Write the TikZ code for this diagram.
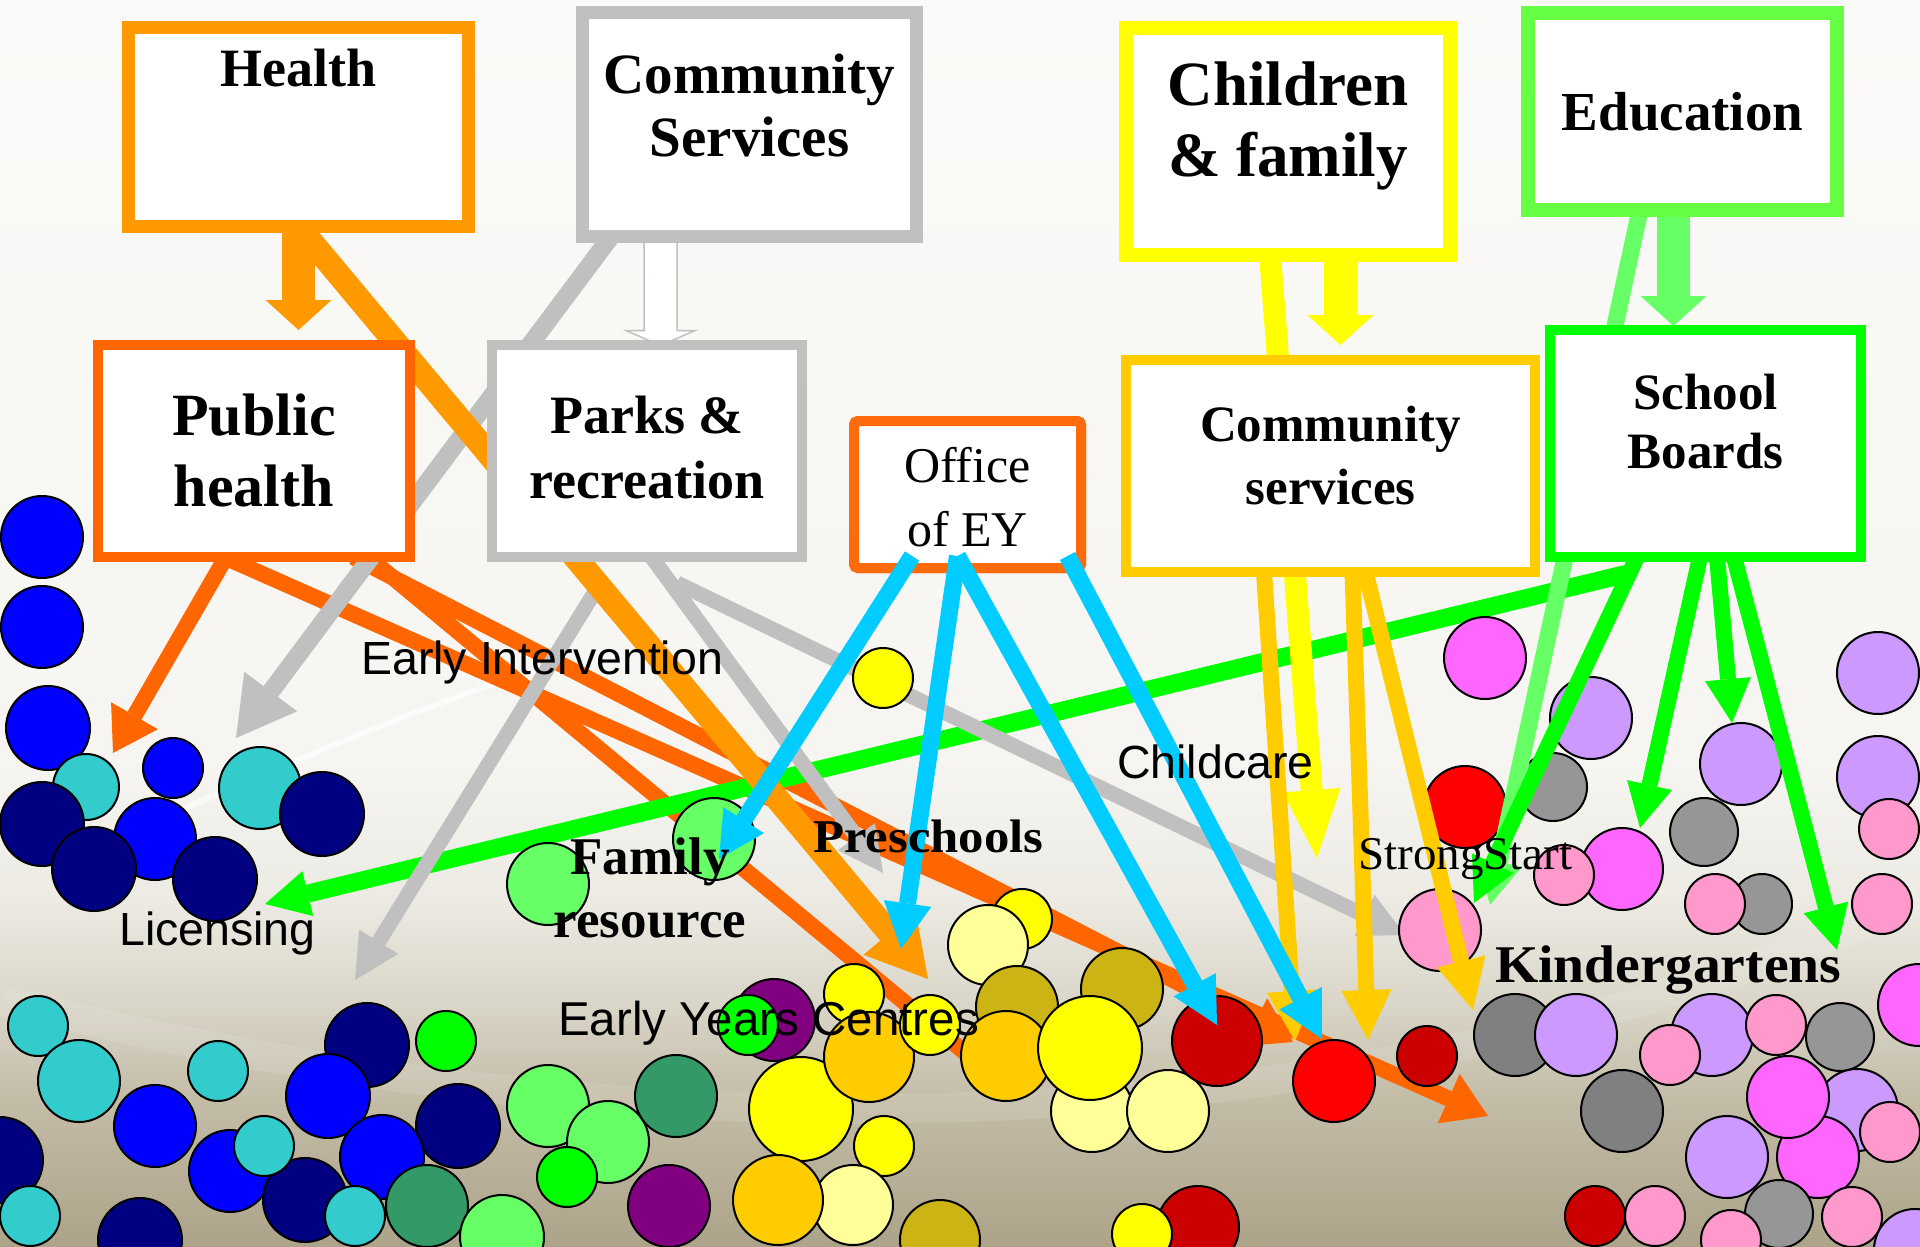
\documentclass[tikz,border=0pt]{standalone}
\usepackage{fontspec}
\usepackage{graphicx}
\setmainfont{Liberation Serif}
\newfontfamily\lblsans{Liberation Sans}
\usetikzlibrary{arrows.meta}

% line and frame colours
\definecolor{cOrange}{HTML}{FF9900}
\definecolor{cRedOr}{HTML}{FF6600}
\definecolor{cEY}{HTML}{FF6A0A}
\definecolor{cGray}{HTML}{C0C0C0}
\definecolor{cYellow}{HTML}{FFFF00}
\definecolor{cGold}{HTML}{FFCC00}
\definecolor{cLGreen}{HTML}{66FF66}
\definecolor{cEdu}{HTML}{66FF44}
\definecolor{cGreen}{HTML}{00FF00}
\definecolor{cCyan}{HTML}{00CCFF}
% dot fills
\definecolor{blu}{HTML}{0000FF}
\definecolor{nav}{HTML}{000080}
\definecolor{tea}{HTML}{33CCCC}
\definecolor{lim}{HTML}{00FF00}
\definecolor{lgr}{HTML}{66FF66}
\definecolor{sgr}{HTML}{339966}
\definecolor{pur}{HTML}{800080}
\definecolor{yel}{HTML}{FFFF00}
\definecolor{gol}{HTML}{FFCC00}
\definecolor{lye}{HTML}{FFFF99}
\definecolor{oli}{HTML}{CCB414}
\definecolor{dre}{HTML}{CC0000}
\definecolor{rd}{HTML}{FF0000}
\definecolor{pnk}{HTML}{FF99CC}
\definecolor{mag}{HTML}{FF66FF}
\definecolor{lav}{HTML}{CC99FF}
\definecolor{grA}{HTML}{808080}
\definecolor{grB}{HTML}{969696}
% backdrop
\definecolor{bg0}{HTML}{FAFAF8}
\definecolor{bg1}{HTML}{F6F5F1}
\definecolor{bg2}{HTML}{ECEAE3}
\definecolor{bg3}{HTML}{DAD6C9}
\definecolor{bg4}{HTML}{C3BCA7}
\definecolor{bg5}{HTML}{ACA389}

\newcommand\fsz[1]{\fontsize{#1pt}{#1pt}\selectfont}

\begin{document}
\begin{tikzpicture}[x=1pt,y=-1pt,
  box/.style={rectangle,draw=#1,fill=white,inner sep=0pt,outer sep=0pt},
  btxt/.style={anchor=base,inner sep=0pt,font=\bfseries},
  rtxt/.style={anchor=base,inner sep=0pt},
  stxt/.style={anchor=base west,inner sep=0pt,font=\lblsans},
  dot/.style={draw=black,line width=2pt},
  orrA/.style={draw=cRedOr,line width=16pt,-{Triangle[width=54pt,length=43pt,line width=0pt]}},
  orrL/.style={draw=cRedOr,line width=16pt},
  diagA/.style={draw=cOrange,line width=24pt,-{Triangle[width=68pt,length=60pt,line width=0pt]}},
  greyA/.style={draw=cGray,line width=15pt,-{Triangle[width=46pt,length=45pt,line width=0pt]}},
  greyB/.style={draw=cGray,line width=18pt,-{Triangle[width=66pt,length=58pt,line width=0pt]}},
  cyanA/.style={draw=cCyan,line width=17pt,-{Triangle[width=48pt,length=46pt,line width=0pt]}},
  goldA/.style={draw=cGold,line width=16pt,-{Triangle[width=50pt,length=50pt,line width=0pt]}},
  yelA/.style={draw=cYellow,line width=22pt,-{Triangle[width=58pt,length=68pt,line width=0pt]}},
  grnA/.style={draw=cGreen,line width=16pt,-{Triangle[width=46pt,length=44pt,line width=0pt]}},
  grnL/.style={draw=cGreen,line width=18pt,-{Triangle[width=46pt,length=44pt,line width=0pt]}},
  lgrA/.style={draw=cLGreen,line width=17pt,-{Triangle[width=46pt,length=44pt,line width=0pt]}},
  blockA/.style={draw=#1,line width=33pt,-{Triangle[width=66pt,length=30pt,line width=0pt]}},
  hollowA/.style={draw=cGray,line width=1.5pt,fill=white,line join=miter}
]
\useasboundingbox (0,0) rectangle (1920,1247);

% ---------- backdrop ----------
\shade[top color=bg0,bottom color=bg1] (0,0) rectangle (1920,761);
\shade[top color=bg1,bottom color=bg2] (0,760) rectangle (1920,901);
\shade[top color=bg2,bottom color=bg3] (0,900) rectangle (1920,1001);
\shade[top color=bg3,bottom color=bg4] (0,1000) rectangle (1920,1101);
\shade[top color=bg4,bottom color=bg5] (0,1100) rectangle (1920,1247);
\draw[white,line width=30pt,opacity=0.1] (0,1000) .. controls (600,1150) and (1300,1170) .. (1920,900);
\draw[white,line width=6pt,opacity=0.6] (175,812) .. controls (300,760) and (430,700) .. (570,660);

% ---------- boxes (placed first so connectors can refer to them) ----------
\node[box=cOrange,line width=13pt,minimum width=340pt,minimum height=199pt] (health) at (298.5,127) {};
\node[box=cGray,line width=13pt,minimum width=334pt,minimum height=224pt] (cstop) at (749.5,124.5) {};
\node[box=cRedOr,line width=10pt,minimum width=312pt,minimum height=212pt] (ph) at (254,451) {};
\node[box=cGray,line width=10pt,minimum width=310pt,minimum height=212pt] (parks) at (647,451) {};
\node[box=cEY,line width=10pt,rounded corners=4pt,minimum width=227pt,minimum height=147pt] (ey) at (967.5,494.5) {};
\node[box=cYellow,line width=14pt,minimum width=324pt,minimum height=227pt] (cf) at (1288,141.5) {};
\node[box=cEdu,line width=14pt,minimum width=309pt,minimum height=197pt] (edu) at (1682.5,111.5) {};
\node[box=cGold,line width=10pt,minimum width=409pt,minimum height=212pt] (cslow) at (1330.5,466) {};
\node[box=cGreen,line width=10pt,minimum width=311pt,minimum height=227pt] (sb) at (1705.5,443.5) {};

% ---------- arrow end points ----------
\coordinate (tE)   at (113,753);
\coordinate (tOR1) at (1488,1116);
\coordinate (tOR2) at (1293,1042);
\coordinate (eOR3) at (998,1080);
\coordinate (tDg)  at (928,979);
\coordinate (tHB)  at (298.5,330);
\coordinate (tG4)  at (236,738);
\coordinate (tG1)  at (883,873);
\coordinate (tG2)  at (1405,935);
\coordinate (tG3)  at (355,980);
\coordinate (tC1)  at (719,859);
\coordinate (tC2)  at (901,949);
\coordinate (tC3)  at (1217,1025);
\coordinate (tC4)  at (1322,1039);
\coordinate (tYB)  at (1340.5,345);
\coordinate (tYL)  at (1317,858);
\coordinate (tY1)  at (1295,1041);
\coordinate (tY2)  at (1368,1040);
\coordinate (tY3)  at (1473,1010);
\coordinate (tGL)  at (265,904);
\coordinate (tGa)  at (1474,903);
\coordinate (tGb)  at (1640,828);
\coordinate (tGc)  at (1732,723);
\coordinate (tGd)  at (1837,950);
\coordinate (tEB)  at (1673.5,326);
\coordinate (tLG)  at (1490,905);

% ---------- connectors lying under the dots ----------
\draw[orrA] ([xshift=-30pt]ph.south) -- (tOR1);
\draw[orrA] ([xshift=99pt]ph.south) -- (tOR2);
\draw[orrL] ([xshift=114pt]ph.south) -- (eOR3);
\draw[orrA] ([xshift=-28pt]ph.south) -- (tE);
\draw[grnL] ([xshift=-80pt,yshift=-17pt]sb.south) -- (tGL);
\draw[greyB] ([xshift=-138.5pt]cstop.south) -- (tG4);
\draw[greyA] ([xshift=4.5pt]parks.south) -- (tG1);
\draw[greyA] ([xshift=30pt,yshift=-26pt]parks.south) -- (tG2);
\draw[greyA] ([xshift=-51pt,yshift=-33pt]parks.south) -- (tG3);
\draw[diagA] (health.south) -- (tDg);

% ---------- dots ----------
\foreach \cx/\cy/\r/\c in {
  42/537/41/blu, 42/627/41/blu, 48/728/42/blu, 86/787/33/tea, 173/768/30/blu,
  260/788/41/tea, 322/814/42/nav, 155/839/41/blu, 42/824/42/nav, 94/869/42/nav,
  215/879/42/nav,
  38/1026/30/tea, 79/1081/41/tea, 218/1071/30/tea, 155/1126/41/blu, 367/1045/42/nav,
  446/1041/30/lim, 328/1096/42/blu, 0/1160/43/nav, 458/1126/42/nav, 230/1171/41/blu,
  305/1200/42/nav, 264/1146/30/tea, 382/1157/42/blu, 355/1216/30/tea, 427/1206/41/sgr,
  30/1216/30/tea, 140/1240/42/nav, 502/1237/42/lgr,
  548/884/41/lgr, 714/839/41/lgr, 548/1106/41/lgr, 608/1142/41/lgr, 676/1096/41/sgr,
  567/1177/30/lim, 669/1206/41/pur, 774/1020/41/pur, 748/1025/30/lim, 854/994/30/yel,
  883/678/30/yel, 801/1109/52/yel, 869/1057/45/gol, 930/1025/30/yel, 884/1146/30/yel,
  853/1205/40/lye, 778/1200/45/gol, 940/1240/40/oli,
  1022/919/30/yel, 988/945/40/lye, 1017/1007/41/oli, 1122/989/41/oli, 1006/1056/45/gol,
  1092/1111/41/lye, 1168/1111/41/lye, 1090/1048/52/yel, 1217/1041/45/dre, 1334/1081/41/rd,
  1427/1056/30/dre, 1198/1227/41/dre, 1142/1234/30/yel,
  1485/658/41/mag, 1591/718/41/lav, 1741/764/41/lav, 1878/673/41/lav, 1878/777/41/lav,
  1889/829/30/pnk, 1553/787/34/grB, 1465/807/41/rd, 1704/832/34/grB, 1622/869/41/mag,
  1564/875/30/pnk, 1762/904/30/grB, 1715/904/30/pnk, 1882/904/30/pnk, 1440/930/41/pnk,
  1515/1035/41/grA, 1576/1035/41/lav, 1712/1035/41/lav, 1670/1055/30/pnk, 1776/1025/30/pnk,
  1840/1037/34/grB, 1919/1005/41/mag, 1622/1111/41/grA, 1857/1110/41/lav, 1890/1132/30/pnk,
  1818/1157/41/mag, 1788/1097/41/mag, 1727/1157/41/lav, 1779/1214/34/grB, 1852/1217/30/pnk,
  1731/1240/30/pnk, 1595/1216/30/dre, 1655/1216/30/pnk, 1915/1250/41/lav}
  \draw[dot,fill=\c] (\cx,\cy) circle[radius=\r pt];

% ---------- connectors lying over the dots ----------
\draw[blockA=cOrange] (health.south) -- (tHB);
\draw[hollowA] ([xshift=-105.5pt]cstop.south) -- ++(0,94) -- ++(-18,0) -- ++(34.5,15)
  -- ++(34.5,-15) -- ++(-18,0) -- ++(0,-94) -- cycle;
\draw[blockA=cYellow] ([xshift=52.5pt]cf.south) -- (tYB);
\draw[yelA] ([xshift=-18pt]cf.south) -- (tYL);
\draw[goldA] ([xshift=-66.5pt]cslow.south) -- (tY1);
\draw[goldA] ([xshift=22pt]cslow.south) -- (tY2);
\draw[goldA] ([xshift=35pt]cslow.south) -- (tY3);
\draw[blockA=cLGreen] ([xshift=-9pt]edu.south) -- (tEB);
\draw[lgrA] ([xshift=-42.5pt]edu.south) -- (tLG);
\draw[grnA] ([xshift=-68.5pt]sb.south) -- (tGa);
\draw[grnA] ([xshift=-5.5pt]sb.south) -- (tGb);
\draw[grnA] ([xshift=11.5pt]sb.south) -- (tGc);
\draw[grnA] ([xshift=28.5pt]sb.south) -- (tGd);

% ---------- frames redrawn over the connectors ----------
\node[box=cOrange,line width=13pt,minimum width=340pt,minimum height=199pt] (healthF) at (health) {};
\node[box=cGray,line width=13pt,minimum width=334pt,minimum height=224pt] (cstopF) at (cstop) {};
\node[box=cRedOr,line width=10pt,minimum width=312pt,minimum height=212pt] (phF) at (ph) {};
\node[box=cGray,line width=10pt,minimum width=310pt,minimum height=212pt] (parksF) at (parks) {};
\node[box=cEY,line width=10pt,rounded corners=4pt,minimum width=227pt,minimum height=147pt] (eyF) at (ey) {};
\node[box=cYellow,line width=14pt,minimum width=324pt,minimum height=227pt] (cfF) at (cf) {};
\node[box=cEdu,line width=14pt,minimum width=309pt,minimum height=197pt] (eduF) at (edu) {};
\node[box=cGold,line width=10pt,minimum width=409pt,minimum height=212pt] (cslowF) at (cslow) {};
\node[box=cGreen,line width=10pt,minimum width=311pt,minimum height=227pt] (sbF) at (sb) {};

% ---------- Office of EY links ----------
\draw[cyanA] ([xshift=-55.5pt,yshift=12pt]ey.south) -- (tC1);
\draw[cyanA] ([xshift=-10pt,yshift=12pt]ey.south) -- (tC2);
\draw[cyanA] ([xshift=-10pt,yshift=12pt]ey.south) -- (tC3);
\draw[cyanA] ([xshift=100pt,yshift=12pt]ey.south) -- (tC4);

% ---------- box titles ----------
\node[btxt] (lHealth) at (298.5,87) {\fsz{54}Health};
\node[btxt] (lCS1) at (749.5,93) {\fsz{57}Community};
\node[btxt] (lCS2) at (749.5,156) {\fsz{57}Services};
\node[btxt] (lPH1) at (254,435) {\fsz{60}Public};
\node[btxt] (lPH2) at (254,506) {\fsz{60}health};
\node[btxt] (lPR1) at (647,433) {\fsz{54}Parks \&};
\node[btxt] (lPR2) at (647,498) {\fsz{54}recreation};
\node[rtxt] (lEY1) at (967.5,482) {\fsz{50}Office};
\node[rtxt] (lEY2) at (967.5,546) {\fsz{50}of EY};
\node[btxt] (lCF1) at (1288,105) {\fsz{63}Children};
\node[btxt] (lCF2) at (1288,176) {\fsz{63}\& family};
\node[btxt] (lEdu) at (1682.5,130.5) {\fsz{55}Education};
\node[btxt] (lCL1) at (1330.5,441) {\fsz{51}Community};
\node[btxt] (lCL2) at (1330.5,504) {\fsz{51}services};
\node[btxt] (lSB1) at (1705.5,409) {\fsz{51}School};
\node[btxt] (lSB2) at (1705.5,468.5) {\fsz{51}Boards};

% ---------- service labels ----------
\node[stxt] (lEI) at (361,674) {\fsz{46.5}Early Intervention};
\node[stxt] (lLic) at (119,945) {\fsz{46.5}Licensing};
\node[stxt] (lEYC) at (558,1035) {\fsz{47.5}Early Years Centres};
\node[stxt] (lCC) at (1117,778) {\fsz{46.5}Childcare};
\node[anchor=base west,inner sep=0pt] (lSS) at (1358,869) {\fsz{47}StrongStart};
\node[anchor=base west,inner sep=0pt,font=\bfseries] (lKG) at (1495,982) {\scalebox{1.05}[1]{\fsz{53}Kindergartens}};
\node[btxt] (lFR1) at (650,874) {\fsz{53}Family};
\node[btxt] (lFR2) at (650,937) {\fsz{53}resource};
\node[anchor=base west,inner sep=0pt,font=\bfseries] (lPS) at (813,852) {\scalebox{1.08}[1]{\fsz{47}Preschools}};
\end{tikzpicture}
\end{document}
